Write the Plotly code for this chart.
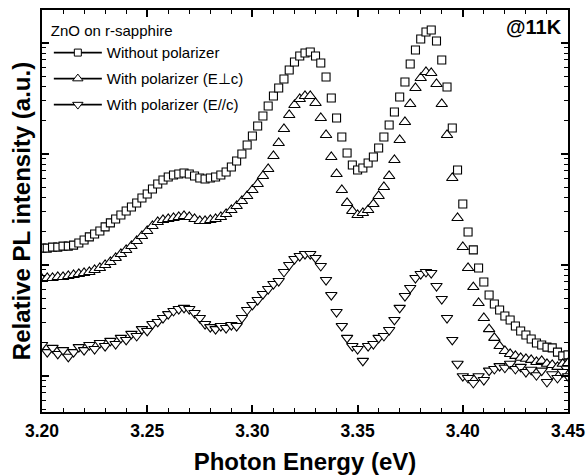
import plotly.graph_objects as go

# Photon energy grid (eV)
energy = [
    3.2000, 3.2025, 3.2050, 3.2075, 3.2100, 3.2125, 3.2150, 3.2175, 3.2200, 3.2225,
    3.2250, 3.2275, 3.2300, 3.2325, 3.2350, 3.2375, 3.2400, 3.2425, 3.2450, 3.2475,
    3.2500, 3.2525, 3.2550, 3.2575, 3.2600, 3.2625, 3.2650, 3.2675, 3.2700, 3.2725,
    3.2750, 3.2775, 3.2800, 3.2825, 3.2850, 3.2875, 3.2900, 3.2925, 3.2950, 3.2975,
    3.3000, 3.3025, 3.3050, 3.3075, 3.3100, 3.3125, 3.3150, 3.3175, 3.3200, 3.3225,
    3.3250, 3.3275, 3.3300, 3.3325, 3.3350, 3.3375, 3.3400, 3.3425, 3.3450, 3.3475,
    3.3500, 3.3525, 3.3550, 3.3575, 3.3600, 3.3625, 3.3650, 3.3675, 3.3700, 3.3725,
    3.3750, 3.3775, 3.3800, 3.3825, 3.3850, 3.3875, 3.3900, 3.3925, 3.3950, 3.3975,
    3.4000, 3.4025, 3.4050, 3.4075, 3.4100, 3.4125, 3.4150, 3.4175, 3.4200, 3.4225,
    3.4250, 3.4275, 3.4300, 3.4325, 3.4350, 3.4375, 3.4400, 3.4425, 3.4450, 3.4475,
    3.4500,
]

# Relative PL intensity (a.u.), without polarizer
no_polarizer = [
    141, 141, 144, 144, 147, 147, 150, 157, 167, 178,
    189, 201, 219, 238, 258, 280, 305, 331, 360, 399,
    434, 481, 533, 580, 617, 643, 656, 670, 656, 630,
    604, 592, 604, 617, 643, 684, 759, 860, 994, 1198,
    1444, 1777, 2186, 2691, 3311, 3908, 4710, 5677, 6703, 7591,
    8078, 8248, 7591, 6565, 4909, 3176, 2097, 1414, 1015, 791,
    713, 743, 825, 934, 1126, 1414, 1814, 2375, 3243, 4426,
    6430, 8597, 10800, 12480, 13010, 10360, 6987, 3989, 1704, 713,
    352, 197, 136, 93.4, 69.8, 53.3, 44.3, 39.1, 34.5, 31.8,
    28.0, 25.3, 23.3, 21.4, 19.7, 18.9, 18.1, 17.8, 16.3, 15.1,
    15.4,
]

# With polarizer, E perpendicular to c
perp_c = [
    74.3, 75.9, 75.9, 77.5, 77.5, 79.1, 80.8, 82.5, 84.2, 86.0,
    89.6, 93.4, 99.4, 105.8, 115.0, 124.9, 135.7, 147.4, 163.6, 181.4,
    201.2, 223.2, 242.5, 252.8, 258.1, 263.5, 269.0, 274.7, 269.0, 258.1,
    247.6, 247.6, 252.8, 258.1, 269.0, 286.3, 311.1, 338.0, 375.0, 415.9,
    471.0, 533.4, 629.8, 728.1, 953.5, 1249, 1669, 2232, 2747, 3111,
    3311, 3311, 2863, 2097, 1474, 934, 656.5, 471.0, 360, 305,
    280.4, 292.3, 311.1, 352, 416, 501.3, 630, 878, 1329, 1930,
    2804, 3908, 4808, 5447, 5334, 4245, 2804, 1474, 604, 263.5,
    144.4, 93.4, 62.9, 45.2, 33.1, 26.3, 21.9, 18.5, 16.7, 15.7,
    15.1, 14.5, 14.2, 13.9, 13.3, 13.6, 12.8, 12.5, 12.0, 12.8,
    13.0,
]

# With polarizer, E parallel to c
para_c = [
    18.9, 16.3, 17.8, 15.7, 17.0, 14.8, 16.3, 18.1, 17.0, 18.9,
    17.4, 19.7, 18.5, 20.6, 19.3, 21.9, 21.0, 23.8, 22.8, 26.3,
    25.3, 29.2, 30.5, 33.1, 35.9, 38.3, 39.9, 40.8, 39.9, 36.7,
    33.1, 29.2, 27.4, 26.3, 28.0, 26.9, 28.6, 28.0, 33.1, 39.1,
    43.4, 48.1, 54.4, 60.4, 67.0, 71.3, 86.0, 99.4, 112.6, 119.8,
    124.9, 124.9, 115.0, 97.4, 72.8, 53.3, 37.5, 28.0, 21.9, 18.5,
    17.4, 13.6, 18.5, 19.3, 21.9, 22.8, 25.8, 31.8, 40.8, 52.2,
    61.7, 75.9, 82.5, 86.0, 84.2, 64.3, 49.1, 33.1, 21.0, 12.8,
    9.9, 9.54, 8.6, 9.9, 9.15, 11.1, 11.5, 12.2, 11.8, 12.8,
    11.5, 12.0, 10.8, 11.3, 10.1, 11.1, 8.78, 10.3, 9.54, 10.8,
    9.9,
]

series_names = ["Without polarizer", "With polarizer (E\u22a5c)", "With polarizer (E//c)"]
series_values = [no_polarizer, perp_c, para_c]
series_symbols = ["square", "triangle-up", "triangle-down"]
series_sizes = [8, 10, 10]

x_tick_vals = [3.20, 3.25, 3.30, 3.35, 3.40, 3.45]
x_tick_text = ["3.20", "3.25", "3.30", "3.35", "3.40", "3.45"]

FONT = "Liberation Sans, Arial, sans-serif"

fig = go.Figure()

for name, vals, sym, sz in zip(series_names, series_values, series_symbols, series_sizes):
    fig.add_trace(go.Scatter(
        x=energy, y=vals, mode="markers", showlegend=False,
        marker=dict(symbol=sym, size=sz, color="white",
                    line=dict(color="black", width=1.1)),
        hoverinfo="x+y", name=name,
    ))

# legend entries (line + open marker style)
for i, (name, sym, sz) in enumerate(zip(series_names, series_symbols, series_sizes)):
    fig.add_trace(go.Scatter(
        x=[None], y=[None], mode="lines+markers", name=name,
        legendgroup=f"g{i}",
        line=dict(color="black", width=1.8),
        marker=dict(symbol=sym, size=sz - 1, color="white",
                    line=dict(color="black", width=1)),
    ))

fig.update_layout(
    width=587, height=475,
    margin=dict(l=42, r=19, t=10, b=63, autoexpand=False),
    paper_bgcolor="white", plot_bgcolor="white",
    font=dict(family=FONT, color="black"),
    showlegend=True,
    legend=dict(
        x=0.013, y=0.983, xanchor="left", yanchor="top",
        bgcolor="rgba(0,0,0,0)", borderwidth=0,
        font=dict(size=15, family=FONT, color="black"),
        title=dict(text="ZnO on r-sapphire", font=dict(size=15, family=FONT)),
        tracegroupgap=3.5, itemwidth=48, traceorder="grouped",
    ),
    annotations=[dict(
        text="@11K", xref="paper", yref="paper", x=0.992, y=0.99,
        xanchor="right", yanchor="top", showarrow=False,
        font=dict(size=20, family=FONT, weight="bold", color="black"),
    )],
)

fig.update_xaxes(
    range=[3.20, 3.45], tickvals=x_tick_vals, ticktext=x_tick_text,
    ticks="inside", ticklen=7, tickwidth=1.5, tickcolor="black",
    minor=dict(ticks="inside", ticklen=4, tickwidth=1.2, dtick=0.01,
               tick0=3.20, tickcolor="black", showgrid=False),
    showline=True, linecolor="black", linewidth=1.5, mirror="ticks",
    showgrid=False, zeroline=False, automargin=False,
    tickfont=dict(size=17.5, family=FONT, weight="bold"),
    ticklabelstandoff=2,
    title=dict(text="Photon Energy (eV)", standoff=16,
               font=dict(size=24, family=FONT, weight="bold")),
)

fig.update_yaxes(
    type="log", range=[0.673, 4.2946], dtick=1,
    ticks="inside", ticklen=7, tickwidth=1.5, tickcolor="black",
    minor=dict(ticks="inside", ticklen=4, tickwidth=1.2, dtick="D1",
               tickcolor="black", showgrid=False),
    showticklabels=False,
    showline=True, linecolor="black", linewidth=1.5, mirror="ticks",
    showgrid=False, zeroline=False, automargin=False,
    title=dict(text="Relative PL intensity (a.u.)", standoff=3,
               font=dict(size=24, family=FONT, weight="bold")),
)

fig.write_html(
    "out.html",
    config={"displayModeBar": False},
    post_script="document.body.style.margin='0';document.body.style.padding='0';",
)
